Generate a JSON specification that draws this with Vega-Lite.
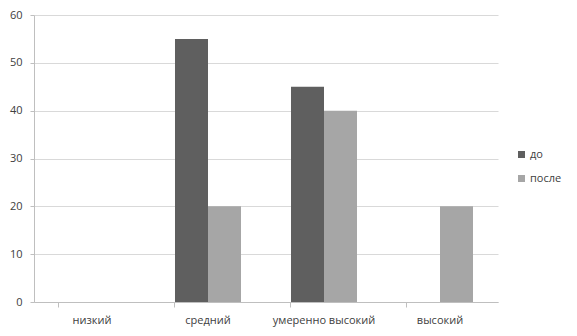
{
  "$schema": "https://vega.github.io/schema/vega-lite/v6.json",
  "width": 464,
  "height": 287,
  "autosize": {"type": "none"},
  "padding": {"left": 34, "top": 15, "right": 79, "bottom": 34},
  "background": "white",
  "data": {
    "values": [
      {"cat": "низкий", "series": "до", "value": 0},
      {"cat": "низкий", "series": "после", "value": 0},
      {"cat": "средний", "series": "до", "value": 55},
      {"cat": "средний", "series": "после", "value": 20},
      {"cat": "умеренно высокий", "series": "до", "value": 45},
      {"cat": "умеренно высокий", "series": "после", "value": 40},
      {"cat": "высокий", "series": "до", "value": 0},
      {"cat": "высокий", "series": "после", "value": 20}
    ]
  },
  "mark": {"type": "bar"},
  "encoding": {
    "x": {
      "field": "cat",
      "type": "nominal",
      "sort": ["низкий", "средний", "умеренно высокий", "высокий"],
      "scale": {"paddingInner": 0.431, "paddingOuter": 0.2155},
      "axis": {
        "title": null,
        "labelAngle": 0,
        "bandPosition": 0,
        "grid": false,
        "domainColor": "#bfbfbf",
        "tickColor": "#bfbfbf",
        "tickSize": 5,
        "labelPadding": 7,
        "labelFontSize": 11,
        "labelColor": "#404040",
        "labelFont": "Open Sans"
      }
    },
    "xOffset": {
      "field": "series",
      "type": "nominal",
      "scale": {"paddingInner": 0, "paddingOuter": 0}
    },
    "y": {
      "field": "value",
      "type": "quantitative",
      "scale": {"domain": [0, 60], "nice": false},
      "axis": {
        "title": null,
        "values": [0, 10, 20, 30, 40, 50, 60],
        "grid": true,
        "gridColor": "#d9d9d9",
        "gridWidth": 1,
        "domainColor": "#bfbfbf",
        "tickColor": "#bfbfbf",
        "tickSize": 4,
        "labelPadding": 8,
        "labelFontSize": 11,
        "labelColor": "#404040",
        "labelFont": "Open Sans"
      }
    },
    "color": {
      "field": "series",
      "type": "nominal",
      "scale": {"domain": ["до", "после"], "range": ["#5f5f5f", "#a6a6a6"]},
      "legend": {
        "title": null,
        "orient": "none",
        "legendX": 482,
        "legendY": 134,
        "symbolType": "square",
        "symbolSize": 49,
        "symbolStrokeWidth": 0,
        "rowPadding": 12,
        "labelFontSize": 11,
        "labelColor": "#404040",
        "labelFont": "Open Sans",
        "labelOffset": 3
      }
    }
  },
  "config": {"view": {"stroke": null}}
}
